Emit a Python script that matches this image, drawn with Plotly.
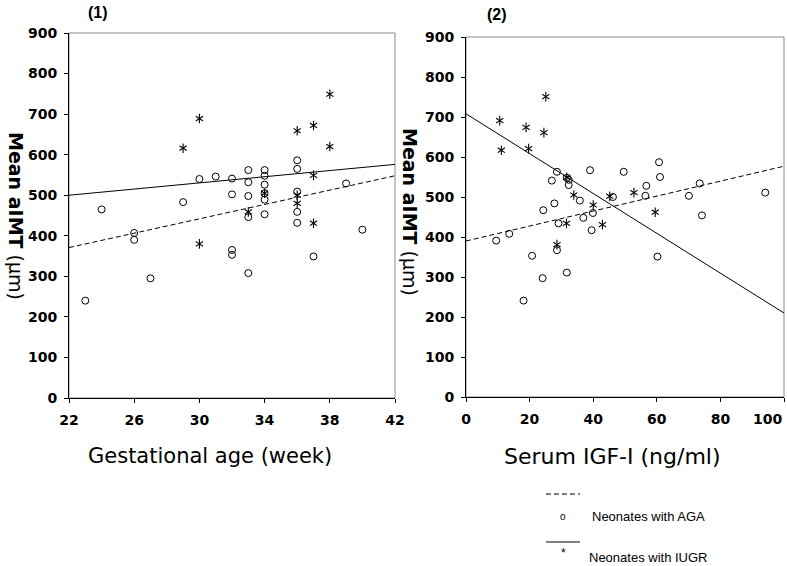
import plotly.graph_objects as go

# ---------------- data ----------------
# Panel (1): gestational age (week) vs mean aIMT (um)
aga_age = [23, 24, 26, 26, 27, 29, 30, 31, 32, 32, 32, 32, 33, 33, 33, 33, 33,
           34, 34, 34, 34, 34, 34, 36, 36, 36, 36, 36, 37, 39, 40]
aga_imt1 = [240, 465, 407, 390, 295, 483, 540, 546, 541, 502, 365, 353, 562, 532, 498, 446, 308,
            562, 548, 526, 505, 489, 453, 586, 565, 509, 459, 432, 349, 529, 415]
iugr_age = [29, 30, 30, 33, 34, 36, 36, 36, 37, 37, 37, 38, 38]
iugr_imt1 = [616, 689, 380, 459, 505, 659, 500, 480, 672, 549, 431, 749, 620]

# Panel (2): serum IGF-I (ng/ml) vs mean aIMT (um)
aga_igf = [9.5, 13.6, 18.1, 20.8, 24.1, 24.3, 27.0, 27.8, 28.6, 28.6, 29.1, 31.7, 31.7, 32.3, 32.3,
           35.8, 36.9, 39.0, 39.5, 39.9, 46.2, 49.6, 56.4, 56.7, 60.2, 60.7, 61.0, 70.1, 73.5, 74.2, 94.1]
aga_imt2 = [391, 408, 241, 353, 297, 467, 541, 484, 563, 367, 434, 311, 548, 543, 530,
            491, 448, 567, 417, 460, 500, 563, 503, 528, 351, 587, 550, 503, 534, 454, 511]
iugr_igf = [10.6, 11.1, 18.9, 19.7, 24.5, 25.1, 28.6, 31.6, 31.7, 33.9, 40.0, 42.9, 45.2, 52.8, 59.5]
iugr_imt2 = [691, 617, 674, 621, 661, 751, 381, 434, 549, 505, 480, 431, 502, 511, 462]

# regression lines (end points)
fit1_x = [22, 42]
fit1_aga = [371, 548]
fit1_iugr = [500, 576]
fit2_x = [0, 100]
fit2_aga = [390, 577]
fit2_iugr = [708, 210]

x1_ticks = [22, 26, 30, 34, 38, 42]
x2_ticks = [0, 20, 40, 60, 80, 100]
y_ticks = [0, 100, 200, 300, 400, 500, 600, 700, 800, 900]

# ---------------- figure ----------------
W, H = 787, 566
FONT = "Liberation Sans, Arial, sans-serif"
WIDE = "DejaVu Sans, sans-serif"
fig = go.Figure()

def add_panel(xa, ya, ax, ay, bx, by, fx, fa, fi):
    # AGA circles
    fig.add_trace(go.Scatter(x=ax, y=ay, mode="markers", xaxis=xa, yaxis=ya, showlegend=False,
                             marker=dict(symbol="circle-open", size=7, color="black",
                                         line=dict(width=1, color="black"))))
    # IUGR asterisks (6-armed: y-up + y-down)
    for sym in ("y-up-open", "y-down-open"):
        fig.add_trace(go.Scatter(x=bx, y=by, mode="markers", xaxis=xa, yaxis=ya, showlegend=False,
                                 marker=dict(symbol=sym, size=6, color="black",
                                             line=dict(width=1.1, color="black"))))
    # fit lines
    fig.add_trace(go.Scatter(x=fx, y=fa, mode="lines", xaxis=xa, yaxis=ya, showlegend=False,
                             line=dict(color="black", width=1, dash="5px,3px")))
    fig.add_trace(go.Scatter(x=fx, y=fi, mode="lines", xaxis=xa, yaxis=ya, showlegend=False,
                             line=dict(color="black", width=1)))

add_panel("x", "y", aga_age, aga_imt1, iugr_age, iugr_imt1, fit1_x, fit1_aga, fit1_iugr)
add_panel("x2", "y2", aga_igf, aga_imt2, iugr_igf, iugr_imt2, fit2_x, fit2_aga, fit2_iugr)

tickfont = dict(family=WIDE, size=14, color="black", weight="bold")
common_axis = dict(showgrid=False, zeroline=False, showline=True, linecolor="black", linewidth=1,
                   ticks="outside", ticklen=4, tickcolor="black", tickwidth=1,
                   tickfont=tickfont, mirror=False, automargin=False,
                   ticklabeloverflow="allow")

# last label of panel 2 is drawn right-aligned to its tick (kept inside the picture)
x2_text = [str(v) for v in x2_ticks]
x2_last = x2_text[-1]
x2_text[-1] = ""

d1x = [69 / W, 395 / W]
d1y = [1 - 398 / H, 1 - 33 / H]
d2x = [466 / W, 784 / W]
d2y = [1 - 397 / H, 1 - 37 / H]

fig.update_layout(
    template="none",
    width=W, height=H, autosize=False,
    margin=dict(l=0, r=0, t=0, b=0, pad=0),
    paper_bgcolor="white", plot_bgcolor="white",
    showlegend=False,
    xaxis=dict(domain=d1x, range=[22, 42], tickvals=x1_ticks, anchor="y", ticklabelstandoff=5, **common_axis),
    yaxis=dict(domain=d1y, range=[0, 900], tickvals=y_ticks, anchor="x", ticklabelstandoff=4, **common_axis),
    xaxis2=dict(domain=d2x, range=[0, 100], tickvals=x2_ticks, ticktext=x2_text, anchor="y2",
                ticklabelstandoff=5, **common_axis),
    yaxis2=dict(domain=d2y, range=[0, 900], tickvals=y_ticks, anchor="x2", ticklabelstandoff=4, **common_axis),
)

# grey frame (top/right)
for xr, yr in (("x domain", "y domain"), ("x2 domain", "y2 domain")):
    fig.add_shape(type="rect", xref=xr, yref=yr, x0=0, x1=1, y0=0, y1=1,
                  line=dict(color="#8a8a8a", width=1), layer="below")

def px(x):
    return x / W

def py(y):
    return 1 - y / H

fig.add_annotation(x=x2_ticks[-1], xref="x2", y=py(419), yref="paper", text=x2_last,
                   xanchor="right", yanchor="middle", showarrow=False,
                   font=dict(family=WIDE, size=14, color="black", weight="bold"))

ann = []
# panel labels
ann.append(dict(x=px(98), y=py(12), text="<b>(1)</b>", font=dict(family=FONT, size=16)))
ann.append(dict(x=px(497), y=py(15), text="<b>(2)</b>", font=dict(family=FONT, size=16)))
# y titles (rotated, reading top to bottom)
ytitle = "<b>Mean aIMT</b> (μm)"
ann.append(dict(x=px(16), y=py(216), text=ytitle, textangle=90, font=dict(family=WIDE, size=19)))
ann.append(dict(x=px(410), y=py(212), text=ytitle, textangle=90, font=dict(family=WIDE, size=19)))
# x titles
ann.append(dict(x=px(210), y=py(456), text="Gestational age (week)", font=dict(family=WIDE, size=21)))
ann.append(dict(x=px(612), y=py(456), text="Serum IGF-I (ng/ml)", font=dict(family=WIDE, size=22)))
# custom legend
ann.append(dict(x=px(563), y=py(516), text="o", font=dict(family=FONT, size=10)))
ann.append(dict(x=px(590), y=py(516), text="Neonates with AGA", xanchor="left", font=dict(family=FONT, size=13)))
ann.append(dict(x=px(563), y=py(553), text="*", font=dict(family=FONT, size=12)))
ann.append(dict(x=px(587), y=py(557), text="Neonates with IUGR", xanchor="left", font=dict(family=FONT, size=13)))

for a in ann:
    a.setdefault("xanchor", "center")
    a.update(xref="paper", yref="paper", yanchor="middle", showarrow=False)
    a["font"].setdefault("color", "black")
    fig.add_annotation(**a)

fig.add_shape(type="line", xref="paper", yref="paper", x0=px(546), x1=px(580), y0=py(494), y1=py(494),
              line=dict(color="black", width=1, dash="5px,3px"))
fig.add_shape(type="line", xref="paper", yref="paper", x0=px(546), x1=px(580), y0=py(542), y1=py(542),
              line=dict(color="black", width=1))

fig.write_html(
    "out.html",
    config={"displayModeBar": False},
    post_script="document.body.style.margin='0';document.body.style.overflow='hidden';",
)
